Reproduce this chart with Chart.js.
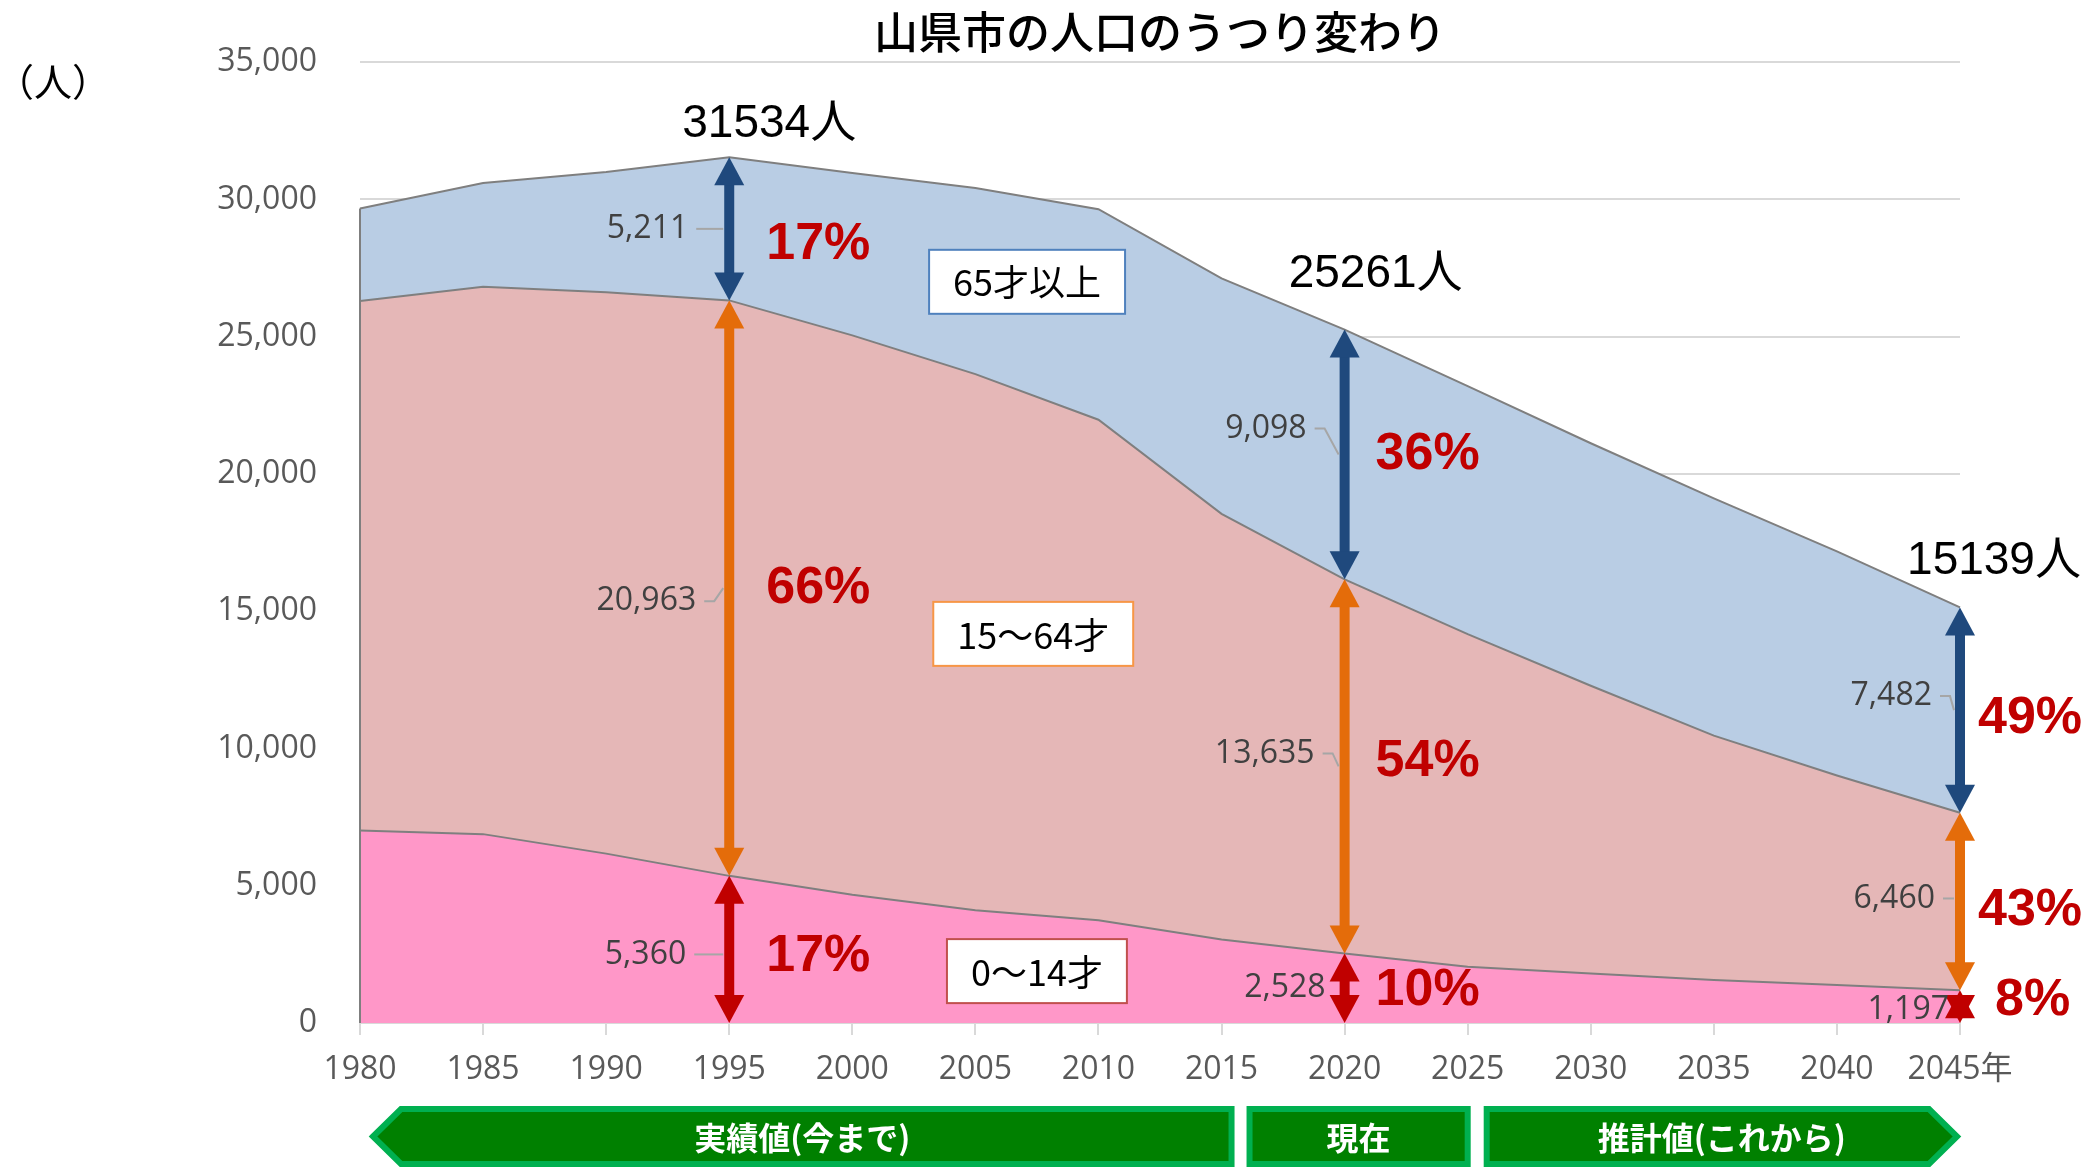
<!DOCTYPE html>
<html lang="ja">
<head>
<meta charset="utf-8">
<title>山県市の人口のうつり変わり</title>
<script src="https://cdn.jsdelivr.net/npm/chart.js@4.4.1/dist/chart.umd.min.js"></script>
<style>
  html, body { margin: 0; padding: 0; background: #fff; }
  #wrap { width: 2090px; height: 1168px; }
</style>
</head>
<body>
<div id="wrap"><canvas id="population-chart" width="2090" height="1168"></canvas></div>
<script>
// data (1995, 2020, 2045 are printed on it)
const years = ['1980', '1985', '1990', '1995', '2000', '2005', '2010', '2015', '2020', '2025', '2030', '2035', '2040', '2045年'];
const age0to14 = [7015, 6880, 6170, 5360, 4670, 4110, 3745, 3045, 2528, 2050, 1805, 1565, 1380, 1197];
const age15to64 = [19288, 19943, 20446, 20963, 20380, 19526, 18232, 15502, 13635, 12114, 10480, 8902, 7634, 6460];
const age65over = [3365, 3780, 4386, 5211, 5910, 6785, 7669, 8578, 9098, 9036, 8835, 8643, 8166, 7482];
const seriesNames = ['0〜14才', '15〜64才', '65才以上'];
const highlightIdx = [3, 8, 13];          // 1995, 2020, 2045
const periodLabels = ['実績値(今まで)', '現在', '推計値(これから)'];

const fillColors = ['#FF97C8', '#E5B7B7', '#B9CDE4'];
const arrowColors = ['#C00000', '#E46C0A', '#1F497D'];
const boxBorders = ['#C0504D', '#F79646', '#4F81BD'];

// label placement tweaks per highlighted year: [dx, dy] for each segment (0-14, 15-64, 65+)
const valueLabelPos = {3: [[-43, 5], [-33, 13], [-41, 0]], 8: [[-19, 0], [-30, -13], [-38, -26]], 13: [[-11, 3], [-25, -3], [-28, -14]]};
const pctLabelPos = {3: [[37, 7], [37, 1], [37, 16]], 8: [[31, 2], [31, -5], [31, 0]], 13: [[35, -6], [18, 9], [18, 9]]};
const totalLabelPos = {3: [40, -33], 8: [31, -55], 13: [34, -46]};
// series name boxes, anchored at (category index, value)
const nameBoxPos = [[5.5, 1890], [5.47, 14175], [5.42, 27000]];

const totals = years.map((_, i) => age0to14[i] + age15to64[i] + age65over[i]);
const series = [age0to14, age15to64, age65over];

const fmt = v => v.toLocaleString('en-US');

function drawDoubleArrow(ctx, cx, yTop, yBottom, color) {
    const shaft = 10, headW = 30, headL = 28;
    const len = yBottom - yTop;
    ctx.fillStyle = color;
    if (len > headL * 2) {
        ctx.fillRect(cx - shaft / 2, yTop + headL - 1, shaft, len - headL * 2 + 2);
    }
    ctx.beginPath();
    ctx.moveTo(cx, yTop);
    ctx.lineTo(cx + headW / 2, yTop + headL);
    ctx.lineTo(cx - headW / 2, yTop + headL);
    ctx.closePath();
    ctx.fill();
    ctx.beginPath();
    ctx.moveTo(cx, yBottom);
    ctx.lineTo(cx + headW / 2, yBottom - headL);
    ctx.lineTo(cx - headW / 2, yBottom - headL);
    ctx.closePath();
    ctx.fill();
}

const annotationPlugin = {
    id: 'populationAnnotations',
    afterDatasetsDraw(chart) {
        const { ctx, scales: { x, y } } = chart;
        ctx.save();

        // left edge of the area outline
        ctx.strokeStyle = '#7F7F7F';
        ctx.lineWidth = 2;
        ctx.beginPath();
        ctx.moveTo(x.getPixelForValue(0), y.getPixelForValue(totals[0]));
        ctx.lineTo(x.getPixelForValue(0), y.getPixelForValue(0));
        ctx.stroke();

        // series name boxes
        ctx.font = '36px "Noto Sans CJK JP", sans-serif';
        ctx.textAlign = 'center';
        ctx.textBaseline = 'middle';
        nameBoxPos.forEach(([idx, val], s) => {
            const cx = x.getPixelForValue(idx);
            const cy = y.getPixelForValue(val);
            const w = ctx.measureText(seriesNames[s]).width + 48;
            const h = 64;
            ctx.fillStyle = '#fff';
            ctx.fillRect(cx - w / 2, cy - h / 2, w, h);
            ctx.strokeStyle = boxBorders[s];
            ctx.lineWidth = 2;
            ctx.strokeRect(cx - w / 2, cy - h / 2, w, h);
            ctx.fillStyle = '#000';
            ctx.fillText(seriesNames[s], cx, cy + 1);
        });

        highlightIdx.forEach(i => {
            const cx = x.getPixelForValue(i);
            let base = 0;
            series.forEach((arr, s) => {
                const yBottom = y.getPixelForValue(base);
                const yTop = y.getPixelForValue(base + arr[i]);
                const yMid = (yTop + yBottom) / 2;
                drawDoubleArrow(ctx, cx, yTop, yBottom, arrowColors[s]);

                // value label with leader line
                const [dx, dy] = valueLabelPos[i][s];
                const ly = yMid + dy;
                ctx.font = '32px "Open Sans", sans-serif';
                ctx.textAlign = 'right';
                ctx.textBaseline = 'middle';
                ctx.fillStyle = '#404040';
                ctx.fillText(fmt(arr[i]), cx + dx, ly);
                if (cx + dx + 14 < cx - 6) {
                    ctx.strokeStyle = '#A6A6A6';
                    ctx.lineWidth = 2;
                    ctx.beginPath();
                    ctx.moveTo(cx + dx + 8, ly);
                    if (Math.abs(dy) > 8) {
                        ctx.lineTo(cx + dx + 18, ly);
                        ctx.lineTo(cx - 6, yMid);
                    } else {
                        ctx.lineTo(cx - 6, ly);
                    }
                    ctx.stroke();
                }

                // share of the total
                const [px, py] = pctLabelPos[i][s];
                ctx.font = 'bold 52px "Liberation Sans", sans-serif';
                ctx.textAlign = 'left';
                ctx.fillStyle = '#C00000';
                ctx.fillText(Math.round(arr[i] / totals[i] * 100) + '%', cx + px, yMid + py);

                base += arr[i];
            });

            // total population
            const [tx, ty] = totalLabelPos[i];
            ctx.font = '46px "Liberation Sans", "Noto Sans CJK JP", sans-serif';
            ctx.textAlign = 'center';
            ctx.fillStyle = '#000';
            ctx.fillText(totals[i] + '人', cx + tx, y.getPixelForValue(totals[i]) + ty);
        });

        ctx.restore();
    },
    afterDraw(chart) {
        const { ctx, scales: { x }, chartArea } = chart;
        ctx.save();

        ctx.font = '38px "Noto Sans CJK JP", sans-serif';
        ctx.textAlign = 'left';
        ctx.textBaseline = 'middle';
        ctx.fillStyle = '#000';
        ctx.fillText('（人）', -4, 82);

        // period banners under the axis
        const top = chartArea.bottom + 86, bot = chartArea.bottom + 141, mid = (top + bot) / 2;
        const spans = [
            [x.getPixelForValue(0) + 13, x.getPixelForValue(7) + 10, 'left'],
            [x.getPixelForValue(7) + 28, x.getPixelForValue(9) + 0, 'none'],
            [x.getPixelForValue(9) + 19, x.getPixelForValue(13) - 3, 'right']
        ];
        spans.forEach(([l, r, tip], k) => {
            ctx.beginPath();
            if (tip === 'left') {
                ctx.moveTo(l, mid);
                ctx.lineTo(l + 28, top);
                ctx.lineTo(r, top);
                ctx.lineTo(r, bot);
                ctx.lineTo(l + 28, bot);
            } else if (tip === 'right') {
                ctx.moveTo(l, top);
                ctx.lineTo(r - 28, top);
                ctx.lineTo(r, mid);
                ctx.lineTo(r - 28, bot);
                ctx.lineTo(l, bot);
            } else {
                ctx.rect(l, top, r - l, bot - top);
            }
            ctx.closePath();
            ctx.fillStyle = '#008000';
            ctx.fill();
            ctx.strokeStyle = '#00B050';
            ctx.lineWidth = 6;
            ctx.lineJoin = 'miter';
            ctx.stroke();
            ctx.fillStyle = '#fff';
            ctx.font = 'bold 32px "Noto Sans CJK JP", sans-serif';
            ctx.textAlign = 'center';
            ctx.fillText(periodLabels[k], (l + r) / 2, mid + 1);
        });

        ctx.restore();
    }
};

Chart.defaults.font.family = '"Open Sans", "Noto Sans CJK JP", sans-serif';

new Chart(document.getElementById('population-chart'), {
    type: 'line',
    data: {
        labels: years,
        datasets: series.map((arr, s) => ({
            label: seriesNames[s],
            data: arr,
            backgroundColor: fillColors[s],
            borderColor: '#7F7F7F',
            borderWidth: 2,
            pointRadius: 0,
            tension: 0,
            fill: s === 0 ? 'origin' : '-1'
        }))
    },
    options: {
        responsive: false,
        devicePixelRatio: 1,
        animation: false,
        layout: { padding: { left: 0, right: 130, top: 0, bottom: 0 } },
        plugins: {
            legend: { display: false },
            tooltip: { enabled: false },
            title: {
                display: true,
                text: '山県市の人口のうつり変わり',
                color: '#000',
                fullSize: false,
                font: { family: '"Noto Sans CJK JP", sans-serif', size: 44, weight: '500', lineHeight: 1.2 },
                padding: { top: 4, bottom: 4 }
            }
        },
        scales: {
            x: {
                offset: false,
                afterFit: scale => { scale.height = 145; },
                grid: { drawOnChartArea: false, drawTicks: true, tickLength: 12, color: '#D9D9D9', lineWidth: 2 },
                border: { color: '#D9D9D9', width: 2 },
                ticks: { autoSkip: false, maxRotation: 0, padding: 16, color: '#595959', font: { size: 32 } }
            },
            y: {
                stacked: true,
                min: 0,
                max: 35000,
                afterFit: scale => { scale.width = 360; },
                grid: { drawTicks: false, color: '#D9D9D9', lineWidth: 2 },
                border: { display: false },
                ticks: { stepSize: 5000, padding: 43, color: '#595959', font: { size: 32 }, callback: v => fmt(v) }
            }
        }
    },
    plugins: [annotationPlugin]
});
</script>
</body>
</html>
